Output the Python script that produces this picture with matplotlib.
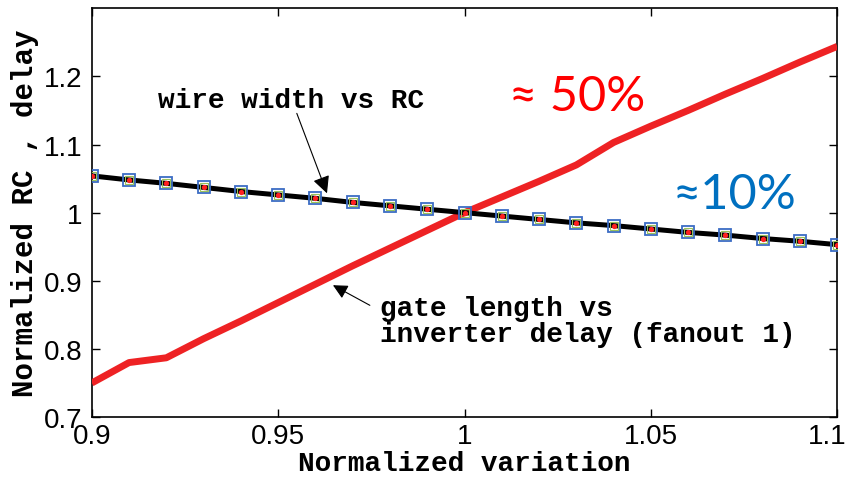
import numpy as np
import matplotlib.pyplot as plt
import matplotlib.transforms as mtransforms

# data
variation = [0.90, 0.91, 0.92, 0.93, 0.94, 0.95, 0.96, 0.97, 0.98, 0.99, 1.00,
             1.01, 1.02, 1.03, 1.04, 1.05, 1.06, 1.07, 1.08, 1.09, 1.10]

wire_rc = [1.054, 1.048, 1.043, 1.037, 1.031, 1.026, 1.021, 1.015, 1.010, 1.005, 1.000,
           0.995, 0.990, 0.985, 0.981, 0.976, 0.971, 0.967, 0.962, 0.958, 0.953]

gate_delay = [0.750, 0.780, 0.787, 0.815, 0.841, 0.868, 0.895, 0.922, 0.948, 0.974, 1.000,
              1.023, 1.046, 1.070, 1.103, 1.127, 1.150, 1.174, 1.197, 1.221, 1.244]

xticks = [0.9, 0.95, 1.0, 1.05, 1.1]
xticklabels = ['0.9', '0.95', '1', '1.05', '1.1']
yticks = [0.7, 0.8, 0.9, 1.0, 1.1, 1.2]
yticklabels = ['0.7', '0.8', '0.9', '1', '1.1', '1.2']

mono = dict(family='Liberation Mono', weight='bold')

fig = plt.figure(figsize=(8.5, 4.85), dpi=100)
ax = fig.add_axes([0.108, 0.138, 0.877, 0.843])

# red gate delay curve
ax.plot(variation, gate_delay, color='#ee2224', lw=5, solid_capstyle='butt', zorder=3)

# black wire RC curve with overlaid markers
ax.plot(variation, wire_rc, color='black', lw=3.6, zorder=4)
ax.plot(variation, wire_rc, ls='none', marker='s', ms=8, mfc='none', mec='#3b6cc4', mew=1.3, zorder=5)
ax.plot(variation, wire_rc, ls='none', marker='s', ms=5.5, mfc='none', mec='#9ac25a', mew=0.8, zorder=5)
ax.plot(variation, wire_rc, ls='none', marker='o', ms=3.8, mfc='#ff2020', mec='none', zorder=6)

ax.set_xlim(0.9, 1.1)
ax.set_ylim(0.7, 1.3)
ax.set_xticks(xticks)
ax.set_xticklabels(xticklabels)
ax.set_yticks(yticks)
ax.set_yticklabels(yticklabels)

ax.tick_params(direction='in', length=6, width=1, top=True, right=True,
               labelsize=20, pad=4)
ax.tick_params(axis='y', pad=7)
for lab in ax.get_xticklabels() + ax.get_yticklabels():
    lab.set_family('Liberation Sans')

# pull the last x label in a little so it stays inside the figure
last = ax.get_xticklabels()[-1]
last.set_transform(last.get_transform() +
                   mtransforms.ScaledTranslation(-10 / 100, 0, fig.dpi_scale_trans))

for s in ax.spines.values():
    s.set_linewidth(1.2)

ax.set_xlabel('Normalized variation', fontsize=20, labelpad=1, **mono)
ax.set_ylabel('Normalized RC , delay', fontsize=21, labelpad=3, **mono)

# annotations
ax.text(0.9177, 1.165, 'wire width vs RC', fontsize=20, ha='left', va='center', **mono)
ax.annotate('', xy=(0.9631, 1.0284), xytext=(0.955, 1.1457),
            arrowprops=dict(arrowstyle='-|>', color='black', lw=0.8,
                            mutation_scale=26, shrinkA=0, shrinkB=0))

ax.text(0.9773, 0.860, 'gate length vs', fontsize=20, ha='left', va='center', **mono)
ax.text(0.9773, 0.822, 'inverter delay (fanout 1)', fontsize=20, ha='left', va='center', **mono)
ax.annotate('', xy=(0.9647, 0.8935), xytext=(0.9746, 0.864),
            arrowprops=dict(arrowstyle='-|>', color='black', lw=0.8,
                            mutation_scale=22, shrinkA=0, shrinkB=0))

ax.text(1.0302, 1.171, '≈ 50%', color='#ff0000', fontsize=35,
        ha='center', va='center', family=['Lato', 'DejaVu Sans'])
ax.text(1.0725, 1.027, '≈10%', color='#0070c0', fontsize=35,
        ha='center', va='center', family=['Lato', 'DejaVu Sans'])

fig.savefig('out.png', dpi=100)
